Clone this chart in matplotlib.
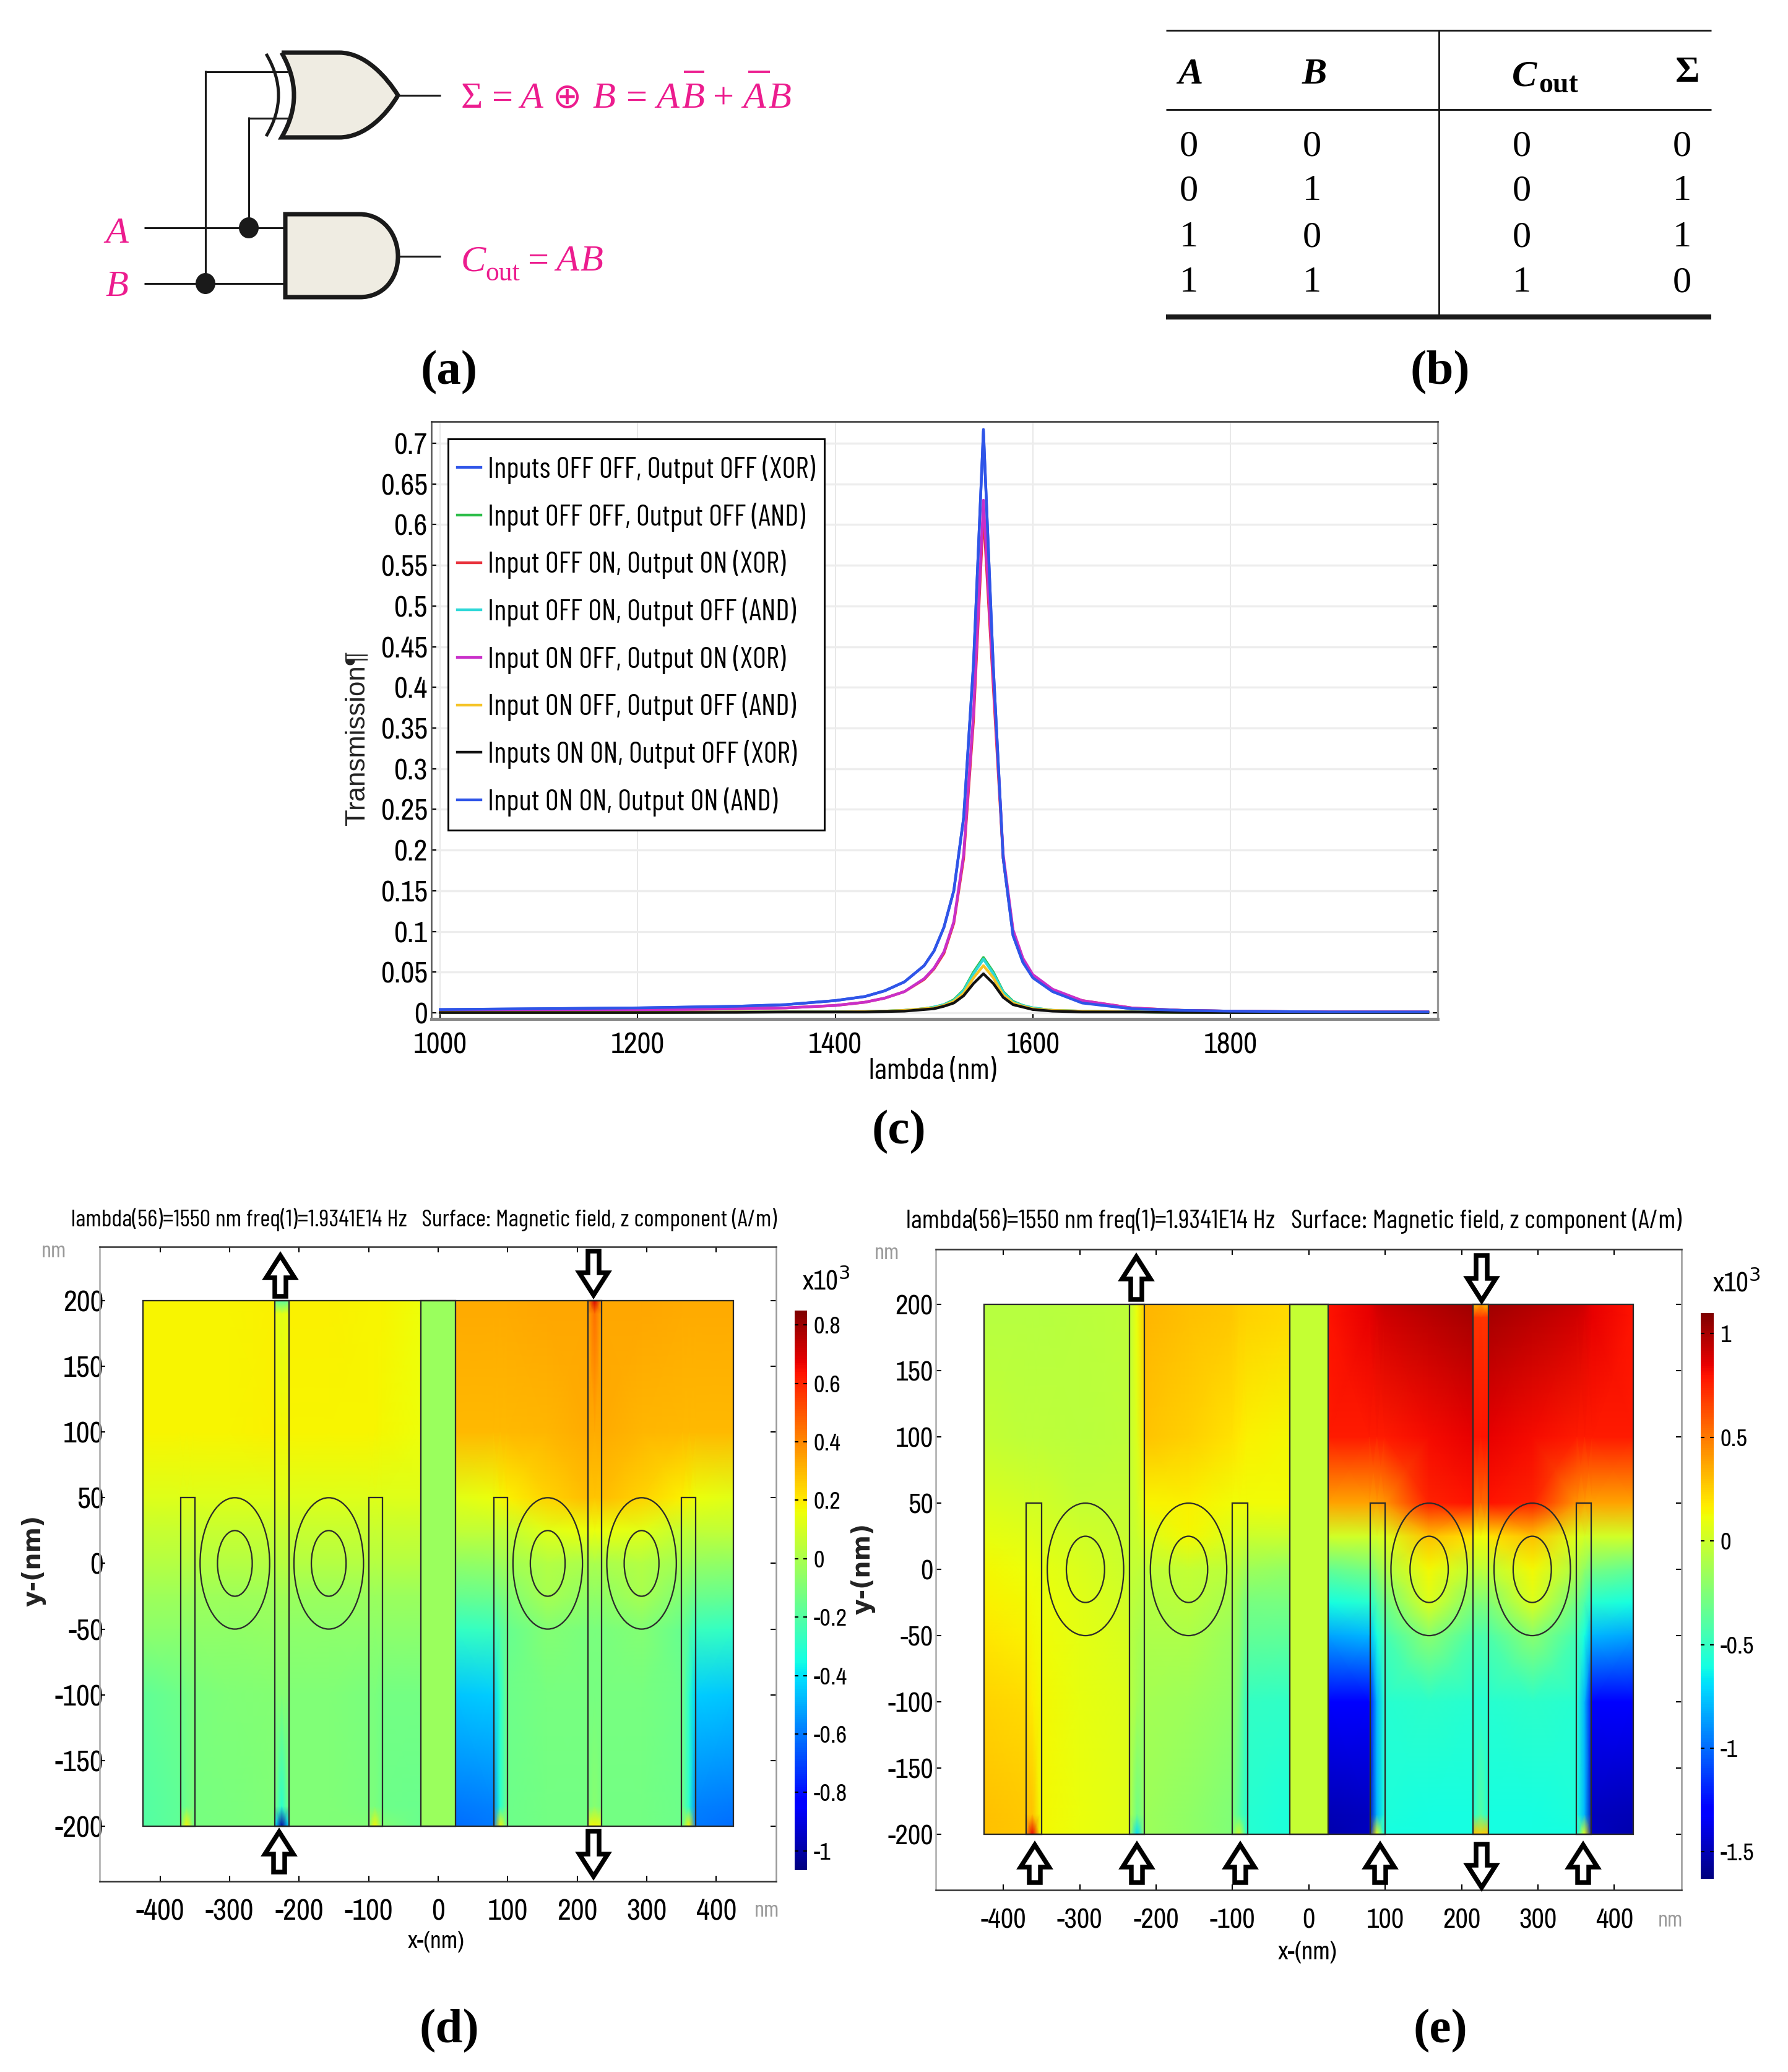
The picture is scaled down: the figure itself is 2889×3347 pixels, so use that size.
import numpy as np
import matplotlib
matplotlib.use('Agg')
import matplotlib.pyplot as plt
from matplotlib import font_manager as fm
from matplotlib.path import Path
from matplotlib.patches import PathPatch, Ellipse, Rectangle, Polygon
from matplotlib.textpath import TextPath
from matplotlib.cm import ScalarMappable
from matplotlib.colors import Normalize

W, H = 2889, 3347
plt.rcParams['axes.unicode_minus'] = False
names = {f.name for f in fm.fontManager.ttflist}


def pick(cands):
    for c in cands:
        if c in names:
            return c
    return 'DejaVu Sans'


COND = pick(['Barlow Condensed', 'Roboto Condensed', 'Archivo Narrow', 'PT Sans Narrow', 'Liberation Sans'])
NARROW = pick(['Archivo Narrow', 'PT Sans Narrow', 'Roboto Condensed', 'Liberation Sans'])
SERIF = 'Liberation Serif'
PINK = '#EC1C8E'


def fit(s, family, px):
    w = TextPath((0, 0), s, size=10, prop=fm.FontProperties(family=family)).get_extents().width
    return 10 * px / (w * 300 / 72)


# ---------- panel (b) truth table ----------
table_a = ['0', '0', '1', '1']
table_b = ['0', '1', '0', '1']
table_cout = ['0', '0', '0', '1']
table_sum = ['0', '1', '1', '0']

# ---------- panel (c) transmission spectra ----------
lam = [1000, 1100, 1200, 1300, 1350, 1400, 1430, 1450, 1470, 1490, 1500, 1510, 1520, 1530, 1540, 1550,
       1560, 1570, 1580, 1590, 1600, 1620, 1650, 1700, 1750, 1800, 1900, 2000]
t_xor_off_off = [.004, .005, .006, .008, .010, .015, .020, .027, .038, .058, .076, .105, .150, .240, .430, .717,
                 .425, .190, .095, .062, .044, .027, .013, .005, .003, .002, .001, .001]
t_and_off_off = [.0005, .0005, .0005, .001, .001, .001, .0015, .002, .003, .005, .007, .010, .016, .028, .050, .068,
                 .050, .026, .014, .009, .006, .003, .002, .001, .0005, .0005, .0005, .0005]
t_xor_off_on = [.002, .002, .003, .005, .006, .009, .013, .018, .026, .041, .054, .073, .110, .190, .360, .615,
                .400, .190, .100, .066, .046, .028, .015, .006, .003, .002, .001, .001]
t_and_off_on = [.0005, .0005, .0005, .001, .001, .001, .0015, .002, .003, .005, .007, .010, .015, .027, .048, .066,
                .048, .025, .013, .009, .006, .003, .002, .001, .0005, .0005, .0005, .0005]
t_xor_on_off = [.002, .002, .003, .005, .006, .009, .013, .018, .026, .042, .055, .075, .112, .195, .370, .630,
                .410, .195, .102, .067, .047, .029, .015, .006, .003, .002, .001, .001]
t_and_on_off = [.0005, .0005, .0005, .001, .001, .001, .0015, .002, .003, .005, .006, .009, .014, .024, .043, .058,
                .043, .022, .012, .008, .005, .003, .002, .001, .0005, .0005, .0005, .0005]
t_xor_on_on = [.0003, .0003, .0003, .0005, .001, .001, .001, .0015, .002, .004, .005, .008, .012, .021, .036, .048,
               .036, .019, .010, .007, .004, .002, .001, .001, .0005, .0003, .0003, .0003]
t_and_on_on = [.004, .005, .006, .008, .010, .015, .020, .027, .038, .058, .076, .105, .150, .240, .430, .715,
               .425, .190, .095, .062, .043, .026, .012, .005, .003, .002, .001, .001]
series_labels = ['Inputs OFF OFF, Output OFF (XOR)', 'Input OFF OFF, Output OFF (AND)', 'Input OFF ON, Output ON (XOR)',
                 'Input OFF ON, Output OFF (AND)', 'Input ON OFF, Output ON (XOR)', 'Input ON OFF, Output OFF (AND)',
                 'Inputs ON ON, Output OFF (XOR)', 'Input ON ON, Output ON (AND)']
series_colors = ['#2F55E8', '#2DBE4A', '#E8323C', '#2FD8D8', '#C92FC9', '#F5C428', '#111111', '#2F55E8']
c_yticks = [0, .05, .1, .15, .2, .25, .3, .35, .4, .45, .5, .55, .6, .65, .7]
c_yticklabels = ['0', '0.05', '0.1', '0.15', '0.2', '0.25', '0.3', '0.35', '0.4', '0.45', '0.5', '0.55', '0.6', '0.65', '0.7']
c_xticks = [1000, 1200, 1400, 1600, 1800]

# ---------- panels (d), (e) field maps: colour values (x10^3 A/m) read at knots ----------
y_knots = [200, 190, 100, 50, 25, 0, -25, -50, -100, -185, -200]
x_left = [-425, -372, -362, -352, -300, -235]
x_gap = [-235, -225, -215]
x_mid = [-215, -157, -101, -91, -81, -25]
x_centre = [-25, 25]
x_inner = [25, 79, 89, 99, 157, 215]
x_gap2 = [215, 225, 235]
x_outer = [235, 293, 351, 361, 371, 425]

d_left = [[.18, .18, .18, .18, .18, .19], [.18, .18, .18, .18, .18, .19], [.18, .18, .18, .18, .18, .19],
          [.12, .12, .12, .12, .12, .12], [.07, .07, .07, .07, .07, .07], [.02, .02, .02, .02, .02, .02],
          [-.03, -.03, -.03, -.03, -.03, -.03], [-.07, -.07, -.07, -.06, -.06, -.05],
          [-.17, -.14, -.13, -.11, -.10, -.09], [-.20, -.17, -.14, -.12, -.11, -.10], [-.20, -.17, .18, -.12, -.11, -.10]]
d_gap = [[-.15, -.2, -.15], [.15, .13, .15], [.17, .17, .17], [.12, .12, .12], [.07, .07, .07], [.03, .03, .03],
         [-.02, -.02, -.02], [-.05, -.05, -.05], [-.09, -.09, -.09], [-.12, -.30, -.12], [-.40, -1.0, -.40]]
d_mid = [[.19, .19, .18, .18, .18, .16], [.19, .19, .18, .18, .18, .16], [.18, .18, .18, .18, .17, .16],
         [.12, .12, .12, .12, .12, .12], [.07, .07, .07, .07, .07, .07], [.02, .02, .02, .02, .02, .02],
         [-.04, -.04, -.04, -.04, -.04, -.04], [-.07, -.07, -.07, -.07, -.07, -.07],
         [-.10, -.10, -.11, -.11, -.13, -.13], [-.10, -.10, -.11, -.11, -.14, -.15], [-.10, -.10, -.10, .18, -.10, -.15]]
d_centre = [[-.04, -.04]] * 11
d_inner = [[.33, .33, .33, .33, .34, .34], [.33, .33, .33, .33, .34, .34], [.30, .30, .30, .30, .31, .33],
           [.13, .15, .17, .19, .25, .29], [.05, .05, .05, .06, .13, .15], [-.06, -.05, -.03, -.02, .02, 0],
           [-.16, -.15, -.12, -.10, -.01, -.06], [-.28, -.26, -.20, -.16, -.09, -.11],
           [-.46, -.44, -.30, -.14, -.12, -.12], [-.60, -.58, -.30, -.14, -.13, -.13], [-.62, -.60, .18, -.14, -.13, -.13]]
d_gap2 = [[.35, .70, .35], [.34, .45, .34], [.33, .33, .33], [.28, .28, .28], [.15, .15, .15], [0, 0, 0],
          [-.06, -.06, -.06], [-.11, -.11, -.11], [-.12, -.12, -.12], [-.12, -.08, -.12], [.12, .18, .12]]

e_left = [[-.07, -.07, -.07, -.07, -.06, -.05], [-.07, -.07, -.07, -.07, -.06, -.05], [-.03, -.05, -.05, -.05, -.06, -.05],
          [.05, .03, .02, .02, -.02, -.03], [.09, .07, .06, .05, .02, -.01], [.13, .11, .10, .09, .05, 0],
          [.16, .14, .12, .11, .07, .02], [.19, .16, .14, .12, .08, .04], [.24, .22, .17, .13, .09, .06],
          [.30, .27, .30, .14, .10, .07], [.30, .27, .85, .14, .10, .07]]
e_gap = [[-.05, .10, .27], [-.05, .10, .27], [-.03, .05, .20], [-.03, .02, .10], [-.02, 0, .05], [-.03, -.04, -.05],
         [-.05, -.07, -.08], [-.07, -.10, -.12], [-.07, -.13, -.17], [-.08, -.30, -.20], [-.10, -.70, -.20]]
e_mid = [[.33, .30, .27, .25, .24, .22], [.33, .30, .27, .25, .24, .22], [.28, .25, .20, .18, .16, .13],
         [.15, .16, .12, .12, .12, .12], [.05, .13, .05, .03, 0, 0], [-.05, -.02, -.06, -.09, -.15, -.18],
         [-.08, -.06, -.12, -.18, -.28, -.28], [-.10, -.10, -.16, -.22, -.35, -.36], [-.13, -.15, -.20, -.30, -.50, -.52],
         [-.15, -.20, -.25, -.40, -.55, -.58], [-.15, -.20, -.25, 0, -.55, -.58]]
e_centre = [[-.03, -.03]] * 11
e_inner = [[.80, .85, .90, .92, .98, 1.02], [.80, .85, .88, .90, .96, 1.0], [.78, .78, .78, .78, .82, .85],
           [.38, .38, .39, .42, .75, .80], [.02, .02, .03, .06, .30, .20], [-.35, -.28, -.20, -.10, .14, -.05],
           [-.60, -.55, -.42, -.30, .05, -.25], [-.85, -.80, -.60, -.45, -.22, -.42], [-1.30, -1.28, -.80, -.55, -.53, -.55],
           [-1.50, -1.48, -.80, -.58, -.60, -.60], [-1.52, -1.48, .10, -.60, -.60, -.60]]
e_gap2 = [[.30, .40, .30], [.70, .70, .70], [.80, .80, .80], [.55, .55, .55], [.12, .12, .12], [-.05, -.05, -.05],
          [-.25, -.25, -.25], [-.42, -.42, -.42], [-.55, -.55, -.55], [-.55, -.40, -.55], [.30, .25, .30]]

ring_x = [-292.5, -157.5, 157.5, 292.5]
stub_x = [-370, -100, 80, 350]
gap_x = [-235, 215]
map_xticks = [-400, -300, -200, -100, 0, 100, 200, 300, 400]
map_yticks = [200, 150, 100, 50, 0, -50, -100, -150, -200]
title_map = 'lambda(56)=1550 nm freq(1)=1.9341E14 Hz   Surface: Magnetic field, z component (A/m)'
d_cb_ticks = [.8, .6, .4, .2, 0, -.2, -.4, -.6, -.8, -1]
d_cb_labels = ['0.8', '0.6', '0.4', '0.2', '0', '-0.2', '-0.4', '-0.6', '-0.8', '-1']
e_cb_ticks = [1, .5, 0, -.5, -1, -1.5]
e_cb_labels = ['1', '0.5', '0', '-0.5', '-1', '-1.5']

fig = plt.figure(figsize=(W / 300, H / 300), dpi=300, facecolor='white')


def axpx(l, t, r, b, **kw):
    return fig.add_axes([l / W, 1 - b / H, (r - l) / W, (b - t) / H], **kw)


# ---------- panel (c) ----------
C_BOX = (697, 681, 2323, 1646)
ax = axpx(*C_BOX)
curves = [t_xor_off_off, t_and_off_off, t_xor_off_on, t_and_off_on, t_xor_on_off, t_and_on_off, t_xor_on_on, t_and_on_on]
for vals, lab, col in zip(curves, series_labels, series_colors):
    ax.plot(lam, vals, color=col, lw=1.05, label=lab)
ax.set_xlim(991, 2010)
ax.set_ylim(-0.0076, 0.7266)
ax.set_xticks(c_xticks)
ax.set_yticks(c_yticks)
ax.set_yticklabels(c_yticklabels)
ax.grid(axis='y', color='#EDEDED', lw=0.8)
ax.grid(axis='x', color='#E4E4E4', lw=0.4)
ax.set_axisbelow(True)
c_tick = fit('1000', NARROW, 83)
ax.tick_params(direction='in', top=False, right=True, length=2, width=0.5, labelsize=c_tick)
ax.tick_params(axis='y', pad=1.5)
ax.tick_params(axis='x', pad=5)
for lb in ax.get_xticklabels() + ax.get_yticklabels():
    lb.set_fontfamily(NARROW)
for s, c, w in [('top', '#333333', .6), ('left', '#555555', .6), ('right', '#999999', .8), ('bottom', '#888888', 1.2)]:
    ax.spines[s].set_color(c)
    ax.spines[s].set_linewidth(w)
cw, ch = C_BOX[2] - C_BOX[0], C_BOX[3] - C_BOX[1]
ax.add_patch(Rectangle(((724 - 697) / cw, 1 - (1341 - 681) / ch), 608 / cw, 632 / ch, transform=ax.transAxes,
                       fc='white', ec='black', lw=0.7, zorder=4))
leg_size = fit(series_labels[0], COND, 526)
leg_em = leg_size * 300 / 72
leg = ax.legend(loc='upper left', bbox_to_anchor=((739 - 697) / cw, 1 - (735 - 681) / ch), borderaxespad=0, borderpad=0,
                frameon=False, prop={'family': COND, 'size': leg_size}, labelspacing=(74.8 - 0.95 * leg_em) / leg_em,
                handlelength=38 / leg_em, handletextpad=11 / leg_em)
leg.set_zorder(5)

# ---------- field maps ----------


def field(ax, zones, vmin, vmax):
    norm = Normalize(vmin, vmax)
    for xs, vals in zones:
        ax.pcolormesh(xs, y_knots, np.array(vals), shading='gouraud', cmap='jet', norm=norm, zorder=1)
    kw = dict(fill=False, ec='#2b2b2b', lw=0.55, zorder=3)
    ax.add_patch(Rectangle((-425, -200), 850, 400, **kw))
    ax.add_patch(Rectangle((-25, -200), 50, 400, **kw))
    for x in gap_x:
        ax.add_patch(Rectangle((x, -200), 20, 400, **kw))
    for x in stub_x:
        ax.add_patch(Rectangle((x, -200), 20, 250, **kw))
    for x in ring_x:
        ax.add_patch(Ellipse((x, 0), 100, 100, **kw))
        ax.add_patch(Ellipse((x, 0), 50, 50, **kw))
    return norm


def map_axes(box, xlim, ylim, ypad, xpad, size):
    ax = axpx(*box)
    ax.set_xlim(*xlim)
    ax.set_ylim(*ylim)
    ax.set_xticks(map_xticks)
    ax.set_yticks(map_yticks)
    ax.tick_params(direction='in', top=True, right=True, length=2.2, width=0.5, labelsize=size)
    ax.tick_params(axis='y', pad=ypad)
    ax.tick_params(axis='x', pad=xpad)
    for lb in ax.get_xticklabels() + ax.get_yticklabels():
        lb.set_fontfamily(NARROW)
    for s, c, w in [('top', '#333333', .6), ('left', '#aaaaaa', .6), ('right', '#999999', .6), ('bottom', '#333333', .6)]:
        ax.spines[s].set_color(c)
        ax.spines[s].set_linewidth(w)
    return ax


def flip(vals):
    return [row[::-1] for row in vals]


d_tick = fit('200', NARROW, 62)
e_tick = fit('200', NARROW, 58)
axd = map_axes((161, 2014, 1254, 3039), (-487, 486), (-242, 241), -1.5, 6.5, d_tick)
nd = field(axd, [(x_left, d_left), (x_gap, d_gap), (x_mid, d_mid), (x_centre, d_centre), (x_inner, d_inner),
                 (x_gap2, d_gap2), (x_outer, flip(d_inner))], -1.066, 0.849)
axe = map_axes((1512, 2018, 2717, 3053), (-488.5, 488), (-242, 241.6), 1, 7, e_tick)
ne = field(axe, [(x_left, e_left), (x_gap, e_gap), (x_mid, e_mid), (x_centre, e_centre), (x_inner, e_inner),
                 (x_gap2, e_gap2), (x_outer, flip(e_inner))], -1.63, 1.10)


def cbar(box, norm, ticks, labels, size):
    cax = axpx(*box)
    cb = fig.colorbar(ScalarMappable(norm=norm, cmap='jet'), cax=cax)
    cb.set_ticks(ticks)
    cb.set_ticklabels(labels)
    cb.outline.set_visible(False)
    cax.tick_params(right=True, left=True, direction='in', length=1.5, width=0.5, labelsize=size, pad=2.5)
    for lb in cax.get_yticklabels():
        lb.set_fontfamily(NARROW)


cbar((1284, 2117, 1304, 3021), nd, d_cb_ticks, d_cb_labels, fit('-0.2', NARROW, 52))
cbar((2748, 2121, 2769, 3035), ne, e_cb_ticks, e_cb_labels, fit('-0.5', NARROW, 53))

# ---------- pixel-space overlay for diagrams and labels ----------
ov = fig.add_axes([0, 0, 1, 1], zorder=10)
ov.set_xlim(0, W)
ov.set_ylim(H, 0)
ov.axis('off')
ov.patch.set_alpha(0)


def t(x, y, s, size=11, family=COND, color='black', ha='left', va='baseline', **kw):
    ov.text(x, y, s, fontsize=size, family=family, color=color, ha=ha, va=va, **kw)


def seg(x0, y0, x1, y1, lw=0.75, c='#1a1a1a'):
    ov.plot([x0, x1], [y0, y1], color=c, lw=lw, solid_capstyle='butt')


# panel (a)
seg(332, 116, 465, 116)
seg(402, 191, 465, 191)
seg(332, 114, 332, 458)
seg(402, 189, 402, 368)
seg(233, 368, 462, 368)
seg(233, 458, 462, 458)
seg(643, 154, 712, 154)
seg(643, 414, 712, 414)
for cx, cy in [(402, 368), (332, 458)]:
    ov.add_patch(Ellipse((cx, cy), 32, 34, fc='#1a1a1a', ec='none', zorder=5))
xor_v = [(455, 85), (548, 85), (590, 85), (625, 125), (643, 154), (625, 185), (590, 222), (548, 222), (455, 222), (495, 154), (455, 85)]
xor_c = [Path.MOVETO, Path.LINETO, Path.CURVE4, Path.CURVE4, Path.CURVE4, Path.CURVE4, Path.CURVE4, Path.CURVE4, Path.LINETO, Path.CURVE3, Path.CURVE3]
ov.add_patch(PathPatch(Path(xor_v, xor_c), fc='#EFECE2', ec='#1a1a1a', lw=1.7, zorder=4, joinstyle='miter'))
ov.add_patch(PathPatch(Path([(430, 87), (470, 154), (430, 220)], [Path.MOVETO, Path.CURVE3, Path.CURVE3]), fc='none', ec='#1a1a1a', lw=1.2, zorder=4))
and_v = [(461, 346), (581, 346), (620, 346), (643, 380), (643, 414), (643, 450), (620, 480), (581, 480), (461, 480), (461, 346)]
and_c = [Path.MOVETO, Path.LINETO, Path.CURVE4, Path.CURVE4, Path.CURVE4, Path.CURVE4, Path.CURVE4, Path.CURVE4, Path.LINETO, Path.CLOSEPOLY]
ov.add_patch(PathPatch(Path(and_v, and_c), fc='#EFECE2', ec='#1a1a1a', lw=1.7, zorder=4, joinstyle='miter'))

pk = dict(size=14.5, family=SERIF, color=PINK, style='italic')
pkn = {**pk, 'style': 'normal'}
t(745, 174, '\u03a3', **pkn)
for x, s in [(840, 'A'), (957, 'B'), (1060, 'A'), (1101, 'B'), (1200, 'A'), (1241, 'B')]:
    t(x, 174, s, **pk)
for x, s in [(795, '='), (1012, '='), (1152, '+')]:
    t(x, 174, s, **pkn)
t(893, 174, '\u2295', size=13.5, family='DejaVu Sans', color=PINK)
seg(1105, 116, 1138, 116, lw=0.9, c=PINK)
seg(1209, 116, 1244, 116, lw=0.9, c=PINK)
t(745, 437, 'C', **pk)
t(784, 453, 'out', size=10.5, family=SERIF, color=PINK)
t(853, 437, '=', **pkn)
t(898, 437, 'A', **pk)
t(937, 437, 'B', **pk)
t(170, 392, 'A', **pk)
t(170, 478, 'B', **pk)

# panel (b)
seg(1884, 49, 2765, 49, lw=0.7)
seg(1884, 177, 2765, 177, lw=0.7)
seg(1884, 512, 2765, 512, lw=2)
seg(2325, 49, 2325, 512, lw=0.7)
hdr = dict(size=14.5, family=SERIF, weight='bold', ha='center', va='center')
t(1923, 121, 'A', style='italic', **hdr)
t(2124, 121, 'B', style='italic', **hdr)
t(2463, 124, 'C', style='italic', **hdr)
t(2518, 138, 'out', size=11, family=SERIF, weight='bold', ha='center', va='center')
t(2727, 118, '\u03a3', **hdr)
row_y = [237, 309, 384, 457]
for col_x, col in zip([1921, 2120, 2459, 2718], [table_a, table_b, table_cout, table_sum]):
    for y, v in zip(row_y, col):
        t(col_x, y, v, size=14.5, family=SERIF, ha='center', va='center')

# sub-panel captions
for x, y, s in [(726, 602, '(a)'), (2327, 602, '(b)'), (1452, 1829, '(c)'), (726, 3281, '(d)'), (2327, 3281, '(e)')]:
    t(x, y, s, size=19, family=SERIF, weight='bold', ha='center', va='center')

# axis text for (c)
t(1507, 1731, 'lambda (nm)', size=fit('lambda (nm)', COND, 203), ha='center', va='center')
t(577, 1192, 'Transmission\u00b6', size=10.5, family='Liberation Sans', color='#222222', rotation=90, ha='center', va='center')

# text for (d)
t(685, 1970, title_map, size=fit(title_map, COND, 1138), ha='center', va='center')
t(705, 3137, 'x-(nm)', size=fit('x-(nm)', NARROW, 90), family=NARROW, ha='center', va='center')
t(54, 2521, 'y-(nm)', size=9.5, family='DejaVu Sans', weight='bold', color='#222222', rotation=90, ha='center', va='center')
t(87, 2021, 'nm', size=fit('nm', COND, 36), color='#999999', ha='center', va='center')
t(1239, 3087, 'nm', size=fit('nm', COND, 36), color='#999999', ha='center', va='center')
t(1335, 2069, 'x10$^{3}$', size=10.5, family=NARROW, ha='center', va='center', math_fontfamily='dejavusans')

# text for (e)
t(2090, 1972, title_map, size=fit(title_map, COND, 1251), ha='center', va='center')
t(2113, 3153, 'x-(nm)', size=fit('x-(nm)', NARROW, 94), family=NARROW, ha='center', va='center')
t(1394, 2534, 'y-(nm)', size=9.5, family='DejaVu Sans', weight='bold', color='#222222', rotation=90, ha='center', va='center')
t(1433, 2024, 'nm', size=fit('nm', COND, 36), color='#999999', ha='center', va='center')
t(2699, 3103, 'nm', size=fit('nm', COND, 36), color='#999999', ha='center', va='center')
t(2806, 2072, 'x10$^{3}$', size=10.5, family=NARROW, ha='center', va='center', math_fontfamily='dejavusans')


def arrow(x, tip, tail, hw=23, sw=9, hl=36):
    d = 1 if tail > tip else -1
    pts = [(x, tip), (x + hw, tip + d * hl), (x + sw, tip + d * hl), (x + sw, tail), (x - sw, tail), (x - sw, tip + d * hl), (x - hw, tip + d * hl)]
    ov.add_patch(Polygon(pts, closed=True, fc='white', ec='black', lw=1.8, zorder=6, joinstyle='miter'))


arrow(453, 2028, 2094)
arrow(959, 2092, 2021)
arrow(451, 2959, 3024)
arrow(959, 3031, 2958)
arrow(1836, 2030, 2099)
arrow(2394, 2101, 2028)
for x in [1672, 1837, 2004, 2230, 2558]:
    arrow(x, 2980, 3041)
arrow(2394, 3049, 2979)

fig.savefig('out.png', dpi=300, facecolor='white')
